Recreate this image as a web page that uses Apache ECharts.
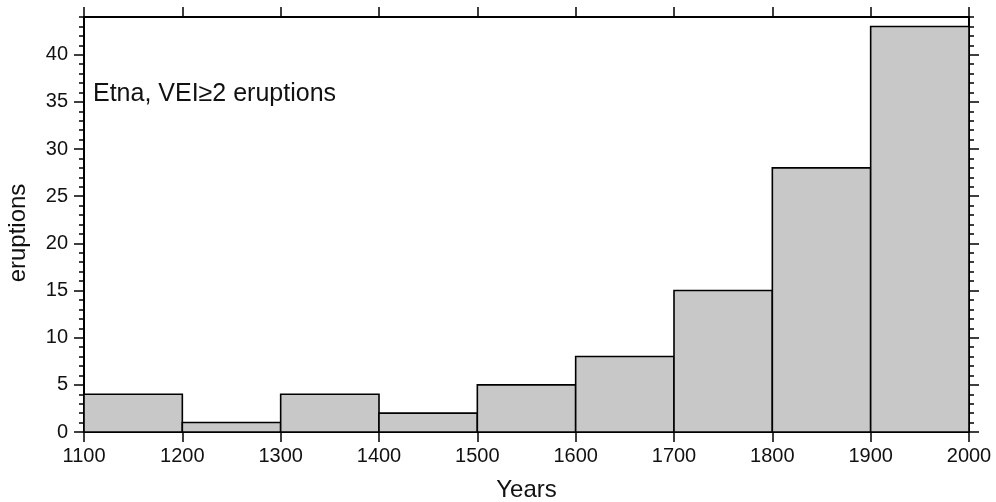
<!DOCTYPE html>
<html>
<head>
<meta charset="utf-8">
<script src="https://cdn.jsdelivr.net/npm/echarts@6/dist/echarts.min.js"></script>
<style>
  html, body { margin: 0; padding: 0; background: #fff; }
  #chart { width: 996px; height: 502px; }
</style>
</head>
<body>
<div id="chart"></div>
<script>
// Histogram bins (century-wide) and eruption counts per bin
const binStart = [1100, 1200, 1300, 1400, 1500, 1600, 1700, 1800, 1900];
const binEnd   = [1200, 1300, 1400, 1500, 1600, 1700, 1800, 1900, 2000];
const counts   = [4, 1, 4, 2, 5, 8, 15, 28, 43];
const yMajorTicks = [0, 5, 10, 15, 20, 25, 30, 35, 40];

const FONT = '"Liberation Sans", Arial, Helvetica, sans-serif';
const chart = echarts.init(document.getElementById('chart'), null, { renderer: 'canvas' });

const lineStyle = { color: '#000', width: 2 };
const tickStyle = { color: '#000', width: 1.5 };

function xAxisDef(position, showLabels) {
  return {
    type: 'value', position: position, min: 1100, max: 2000, interval: 100,
    axisLine: { show: true, onZero: false, lineStyle: lineStyle },
    axisTick: { show: true, inside: false, length: 10, lineStyle: tickStyle },
    axisLabel: {
      show: showLabels, color: '#111', fontSize: 20, fontFamily: FONT, margin: 14,
      formatter: function (v) { return String(v); }
    },
    splitLine: { show: false },
    name: showLabels ? 'Years' : '',
    nameLocation: 'middle', nameGap: 46,
    nameTextStyle: { color: '#111', fontSize: 24, fontFamily: FONT }
  };
}

function yMajor(position, showLabels) {
  return {
    type: 'value', position: position, min: 0, max: 44, interval: 5,
    axisLine: { show: true, onZero: false, lineStyle: lineStyle },
    axisTick: { show: true, inside: false, length: 10, lineStyle: tickStyle, customValues: yMajorTicks },
    axisLabel: { show: showLabels, color: '#111', fontSize: 20, fontFamily: FONT, margin: 16, customValues: yMajorTicks },
    splitLine: { show: false }
  };
}

function yMinor(position) {
  return {
    type: 'value', position: position, min: 0, max: 44, interval: 1,
    axisLine: { show: false },
    axisTick: { show: true, inside: false, length: 5, lineStyle: tickStyle },
    axisLabel: { show: false },
    splitLine: { show: false }
  };
}

const histData = binStart.map((s, i) => [s, binEnd[i], counts[i]]);

chart.setOption({
  animation: false,
  backgroundColor: '#fff',
  grid: { left: 84, right: 27, top: 17, bottom: 70, containLabel: false, outerBoundsMode: 'none' },
  xAxis: [xAxisDef('bottom', true), xAxisDef('top', false)],
  yAxis: [yMajor('left', true), yMinor('left'), yMajor('right', false), yMinor('right')],
  graphic: [
    {
      type: 'text', x: 93, y: 94, z: 10,
      style: { text: 'Etna, VEI\u22652 eruptions', fill: '#111', font: '25px ' + FONT, verticalAlign: 'middle' }
    },
    {
      type: 'text', x: 18, y: 233, rotation: Math.PI / 2, z: 10,
      style: { text: 'eruptions', fill: '#111', font: '24px ' + FONT, align: 'center', verticalAlign: 'middle' }
    }
  ],
  series: [{
    type: 'custom',
    xAxisIndex: 0, yAxisIndex: 0,
    data: histData,
    encode: { x: [0, 1], y: 2 },
    renderItem: function (params, api) {
      const p0 = api.coord([api.value(0), 0]);
      const p1 = api.coord([api.value(1), api.value(2)]);
      return {
        type: 'rect',
        shape: { x: p0[0], y: p1[1], width: p1[0] - p0[0], height: p0[1] - p1[1] },
        style: { fill: '#c8c8c8', stroke: '#000', lineWidth: 1.6 }
      };
    }
  }]
});
</script>
</body>
</html>
